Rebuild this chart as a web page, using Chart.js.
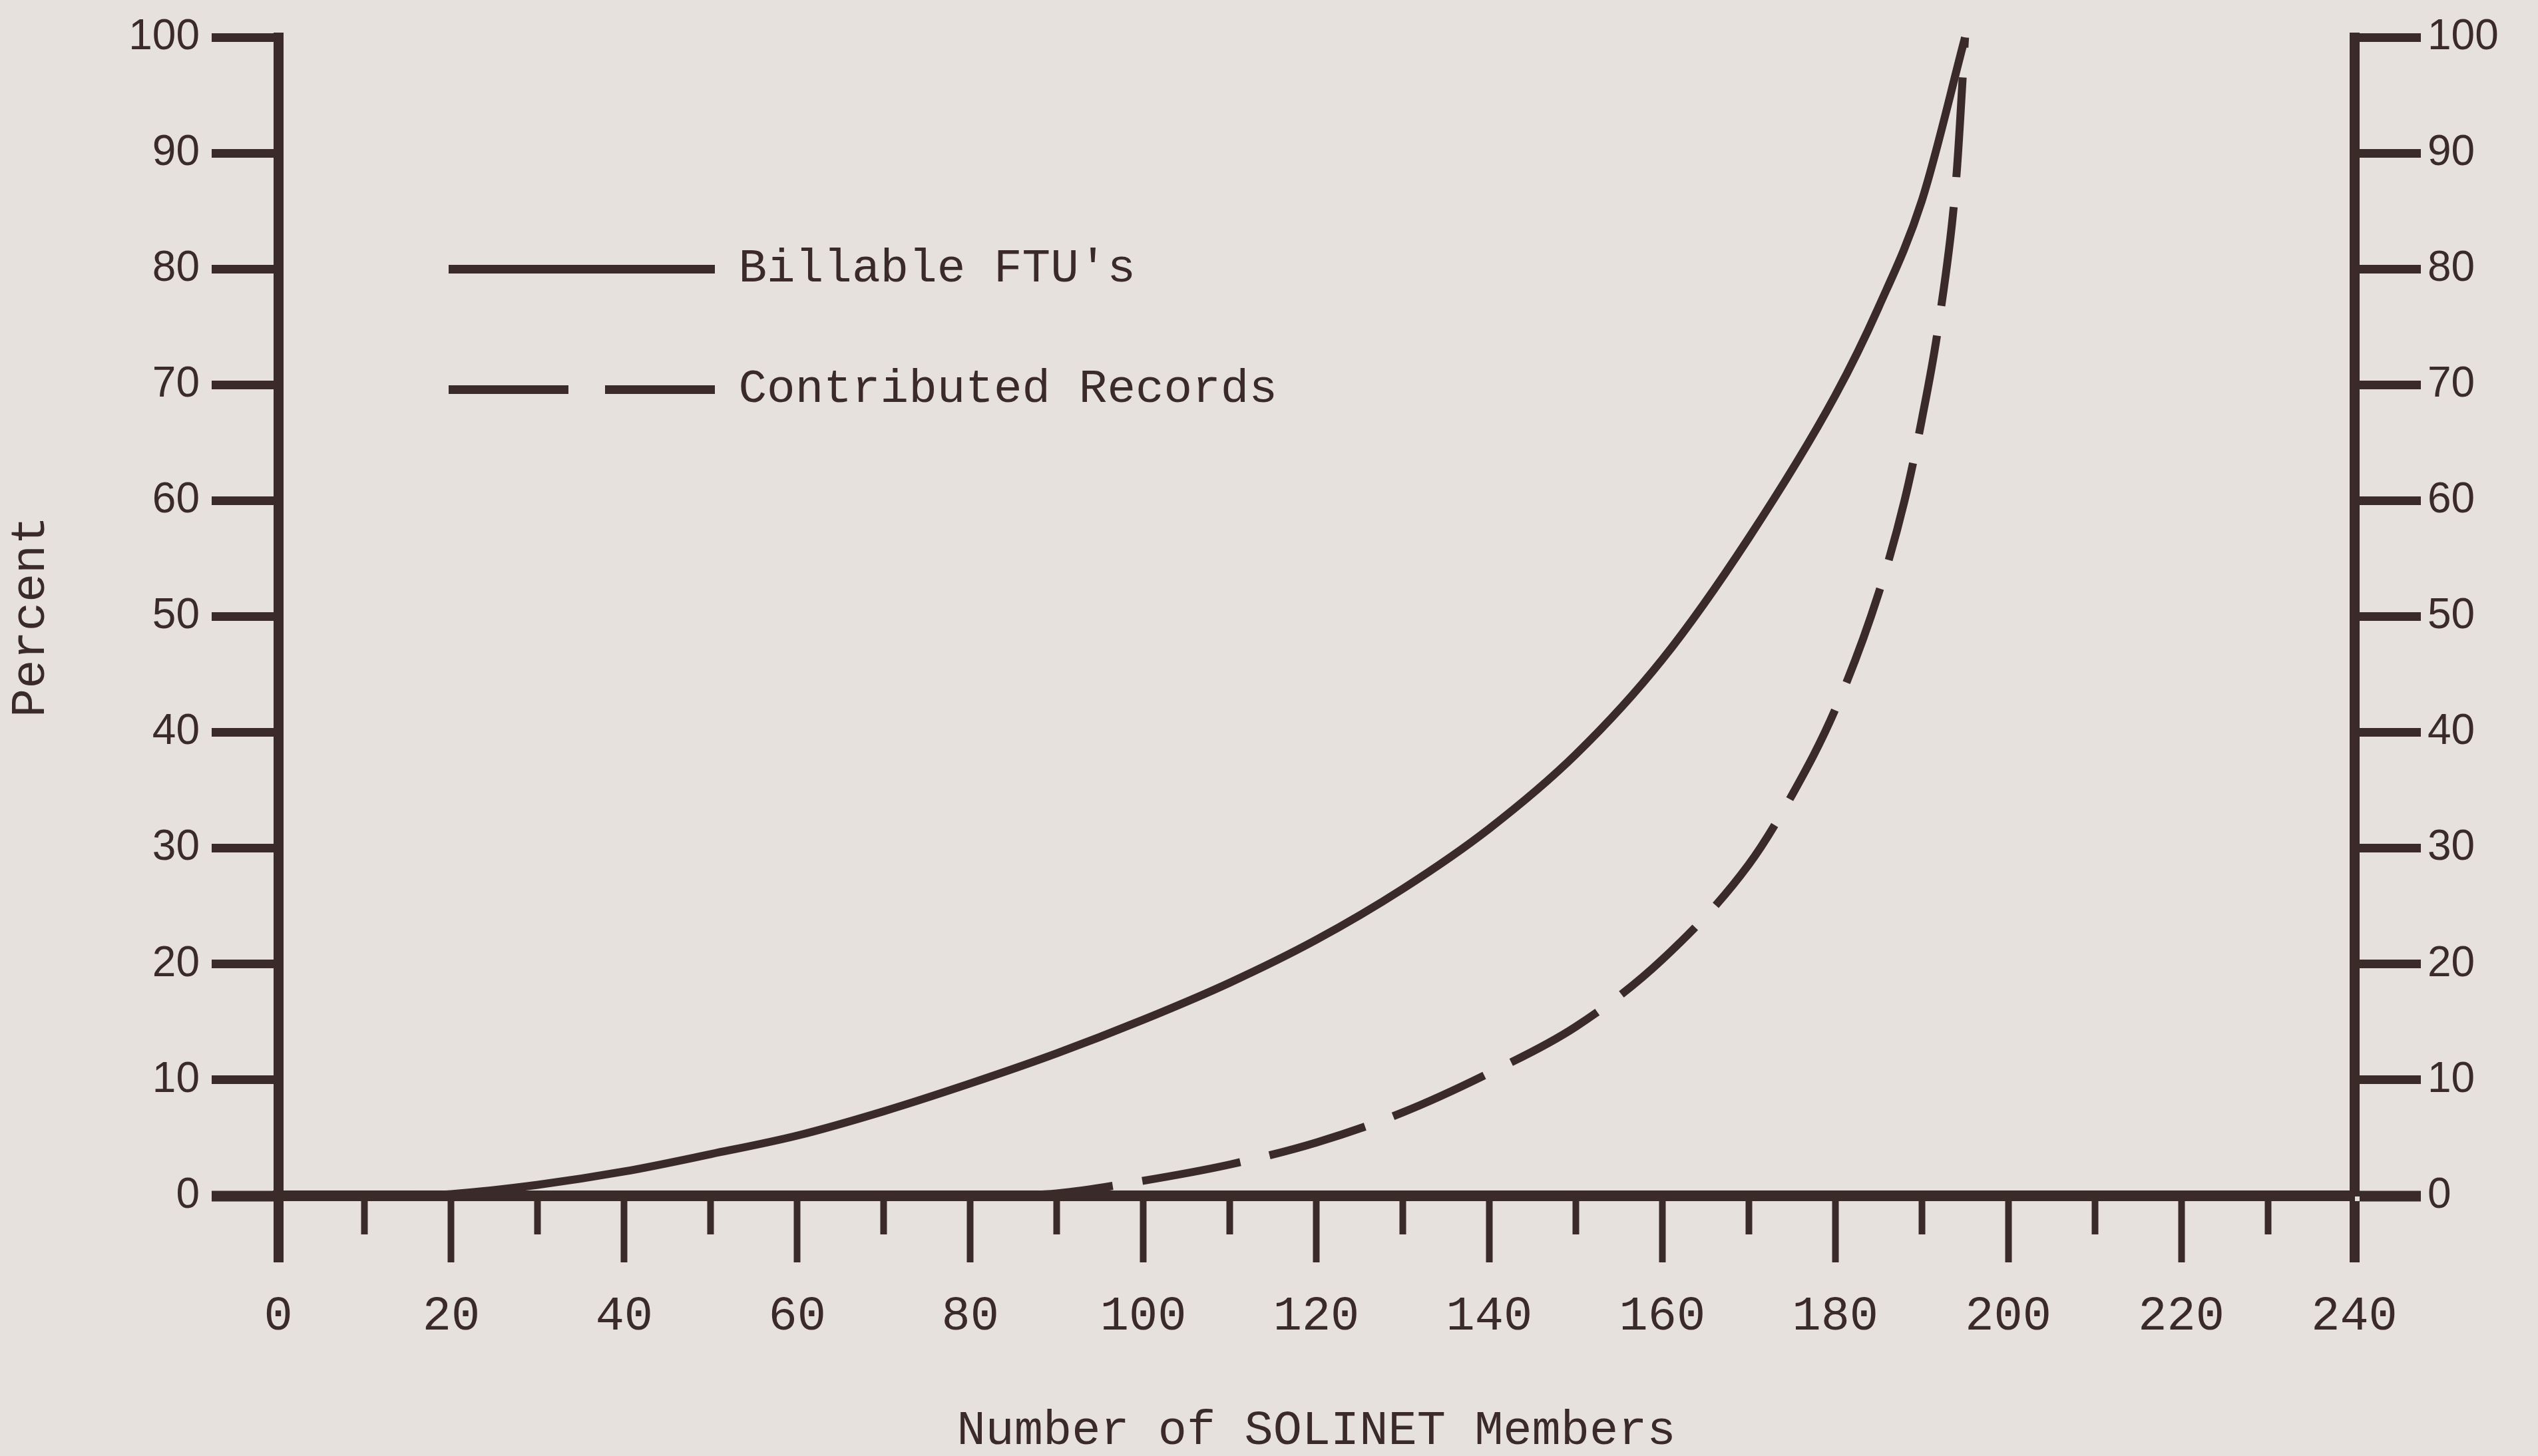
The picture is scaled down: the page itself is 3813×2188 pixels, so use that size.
<!DOCTYPE html>
<html>
<head>
<meta charset="utf-8">
<script src="https://cdn.jsdelivr.net/npm/chart.js@4.4.1/dist/chart.umd.min.js"></script>
<style>
  html, body { margin: 0; padding: 0; background: #e7e1de; }
  #wrap { width: 3813px; height: 2188px; }
</style>
</head>
<body>
<div id="wrap"><canvas id="solinetChart"></canvas></div>
<script>
// values (x = number of SOLINET members, y = percent)
const ftuMembers = [15, 20, 30, 40, 50, 60, 70, 80, 90, 100, 110, 120, 130, 140, 150, 160, 170, 180, 185, 190, 195];
const ftuPercent = [0, 0.15, 0.95, 2.1, 3.6, 5.2, 7.3, 9.7, 12.3, 15.2, 18.4, 22.1, 26.5, 31.7, 38.1, 46.3, 56.8, 69.1, 76.7, 85.9, 100];

const recordsMembers = [85, 90, 100, 110, 120, 130, 140, 150, 160, 170, 175, 180, 185, 188, 190, 192, 194, 195];
const recordsPercent = [0, 0.2, 1.3, 2.7, 4.6, 7.2, 10.6, 14.6, 20.4, 28.6, 34.6, 42.0, 52.0, 60.0, 67.0, 75.5, 88.0, 100];

const xTicks = [0, 10, 20, 30, 40, 50, 60, 70, 80, 90, 100, 110, 120, 130, 140, 150, 160, 170, 180, 190, 200, 210, 220, 230, 240];
const yTicks = [0, 10, 20, 30, 40, 50, 60, 70, 80, 90, 100];

const ink = '#3a2b29';
const paper = '#e7e1de';
const typewriter = "'Liberation Mono', 'DejaVu Sans Mono', monospace";
const plain = "'Liberation Sans', 'DejaVu Sans', sans-serif";

function toPoints(xs, ys) {
  return xs.map((x, i) => ({ x: x, y: ys[i] }));
}

const paperBackground = {
  id: 'paperBackground',
  beforeDraw(chart) {
    const c = chart.ctx;
    c.save();
    c.fillStyle = paper;
    c.fillRect(0, 0, chart.width, chart.height);
    c.restore();
  }
};

// legend sits inside the plot, level with the 80 and 70 ticks
const legendPlacer = {
  id: 'legendPlacer',
  afterLayout(chart) {
    const lg = chart.legend;
    const pad = lg.options.labels.padding;
    const half = lg.options.labels.font.size / 2;
    lg.left = chart.chartArea.left + 256 - pad;
    lg.top = chart.scales.y.getPixelForValue(80) - pad - half;
  }
};

function legendItems(chart) {
  const items = Chart.defaults.plugins.legend.labels.generateLabels(chart);
  items.forEach(item => {
    const ds = chart.data.datasets[item.datasetIndex];
    item.lineWidth = 13;
    item.lineDash = ds.borderDash ? [180, 55] : [];
    item.lineCap = 'butt';
  });
  return items;
}

function yAxis(side, width, labelPad) {
  return {
    type: 'linear',
    position: side,
    min: 0,
    max: 100,
    afterBuildTicks: (scale) => { scale.ticks = yTicks.map(v => ({ value: v })); },
    afterFit: (scale) => { scale.width = width; },
    border: { display: true, color: ink, width: 15 },
    grid: {
      drawOnChartArea: false,
      drawTicks: true,
      tickLength: 100,
      tickColor: ink,
      tickWidth: (ctx) => (ctx.tick && ctx.tick.value === 0 ? 16 : 13)
    },
    ticks: {
      padding: labelPad,
      color: ink,
      font: { family: plain, size: 64 }
    }
  };
}

const leftAxis = yAxis('left', 418, 18);
leftAxis.title = {
  display: true,
  text: 'Percent',
  color: ink,
  font: { family: typewriter, size: 72, lineHeight: 1.2 },
  padding: { top: 4, bottom: 0 }
};
const rightAxis = yAxis('right', 276, 10);

new Chart(document.getElementById('solinetChart'), {
  type: 'line',
  data: {
    datasets: [{
      label: "Billable FTU's",
      data: toPoints(ftuMembers, ftuPercent),
      borderColor: ink,
      backgroundColor: ink,
      borderWidth: 12,
      cubicInterpolationMode: 'monotone',
      pointRadius: 0,
      pointStyle: 'line',
      fill: false,
      clip: false
    }, {
      label: 'Contributed Records',
      data: toPoints(recordsMembers, recordsPercent),
      borderColor: ink,
      backgroundColor: ink,
      borderWidth: 12,
      borderDash: [150, 45],
      cubicInterpolationMode: 'monotone',
      pointRadius: 0,
      pointStyle: 'line',
      fill: false,
      clip: false
    }]
  },
  options: {
    responsive: true,
    maintainAspectRatio: false,
    animation: false,
    devicePixelRatio: 1,
    layout: { padding: { top: 53, left: 0, right: 0, bottom: 0 } },
    scales: {
      x: {
        type: 'linear',
        position: 'bottom',
        min: 0,
        max: 240,
        afterBuildTicks: (scale) => { scale.ticks = xTicks.map(v => ({ value: v })); },
        afterFit: (scale) => { scale.height = 391; },
        border: { display: true, color: ink, width: 16 },
        grid: {
          drawOnChartArea: false,
          drawTicks: true,
          tickLength: 100,
          tickColor: ink,
          tickWidth: (ctx) => {
            const v = ctx.tick ? ctx.tick.value : 0;
            return (v === 0 || v === 240) ? 15 : 10;
          },
          tickBorderDash: (ctx) => (ctx.tick && ctx.tick.value % 20 !== 0 ? [50, 500] : [])
        },
        ticks: {
          autoSkip: false,
          maxRotation: 0,
          padding: 39,
          color: ink,
          font: { family: typewriter, size: 72, lineHeight: 1.2 },
          callback: (v) => (v % 20 === 0 ? v : '')
        },
        title: {
          display: true,
          text: 'Number of SOLINET Members',
          color: ink,
          font: { family: typewriter, size: 72, lineHeight: 1 },
          padding: { top: 0, bottom: 1 }
        }
      },
      y: leftAxis,
      y2: rightAxis
    },
    plugins: {
      legend: {
        display: true,
        position: 'chartArea',
        align: 'start',
        labels: {
          usePointStyle: true,
          pointStyleWidth: 400,
          padding: 110,
          color: ink,
          font: { family: typewriter, size: 71 },
          generateLabels: legendItems
        }
      },
      tooltip: { enabled: false }
    }
  },
  plugins: [paperBackground, legendPlacer]
});
</script>
</body>
</html>
